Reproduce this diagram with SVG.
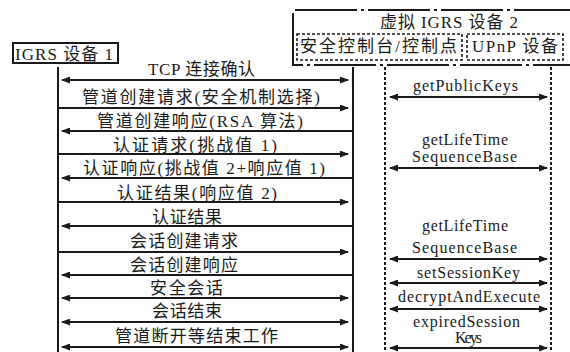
<svg xmlns="http://www.w3.org/2000/svg" width="570" height="352" viewBox="0 0 570 352">
<style>
text{font-family:"Liberation Serif","Times New Roman","Noto Sans CJK SC",serif;font-size:17px;fill:#1a1a1a;text-anchor:middle}
.lat{font-size:16px}
.msg{stroke:#1a1a1a;stroke-width:2;fill:none}
.life{stroke:#1a1a1a;stroke-width:2;fill:none}
.dlife{stroke:#1a1a1a;stroke-width:2;stroke-dasharray:3 2;fill:none}
.box{stroke:#1a1a1a;stroke-width:2;fill:none}
.dbox{stroke:#1a1a1a;stroke-width:1.6;stroke-dasharray:3 2;fill:none}
.ddbox{stroke:#1a1a1a;stroke-width:2;stroke-dasharray:62 4 3 4;fill:none}
</style>
<defs>
<marker id="ah" markerUnits="userSpaceOnUse" markerWidth="9" markerHeight="7" refX="8" refY="3.5" orient="auto-start-reverse">
<path d="M0,0 L9,3.5 L0,7 z" fill="#1a1a1a"/>
</marker>
</defs>
<rect width="570" height="352" fill="#fff"/>

<g id="device1">
<rect class="box" x="13" y="43" width="105" height="20"/>
<text x="64" y="60" textLength="98" lengthAdjust="spacing">IGRS 设备 1</text>
<line class="life" x1="58" y1="67" x2="58" y2="352"/>
</g>

<g id="device2">
<path class="ddbox" d="M295,10 H570"/>
<path class="ddbox" d="M293,13 V65 H570"/>
<text x="449" y="28" textLength="138" lengthAdjust="spacing">虚拟 IGRS 设备 2</text>
<line class="life" x1="353" y1="67" x2="353" y2="352"/>
</g>

<g id="control-point">
<rect class="dbox" x="297" y="34" width="165" height="26"/>
<text x="378.5" y="52" textLength="157" lengthAdjust="spacing">安全控制台/控制点</text>
<line class="dlife" x1="385" y1="67" x2="385" y2="352"/>
</g>

<g id="upnp-device">
<rect class="dbox" x="467" y="34" width="96" height="26"/>
<text x="515" y="52" textLength="86" lengthAdjust="spacing">UPnP 设备</text>
<line class="dlife" x1="551" y1="67" x2="551" y2="352"/>
</g>

<g id="connectors">
<line class="msg" x1="62" y1="80" x2="348" y2="80" marker-start="url(#ah)" marker-end="url(#ah)"/>
<line class="msg" x1="58" y1="108" x2="348" y2="108" marker-end="url(#ah)"/>
<line class="msg" x1="353" y1="131" x2="62" y2="131" marker-end="url(#ah)"/>
<line class="msg" x1="58" y1="154" x2="348" y2="154" marker-end="url(#ah)"/>
<line class="msg" x1="353" y1="178" x2="62" y2="178" marker-end="url(#ah)"/>
<line class="msg" x1="58" y1="202" x2="348" y2="202" marker-end="url(#ah)"/>
<line class="msg" x1="353" y1="226" x2="62" y2="226" marker-end="url(#ah)"/>
<line class="msg" x1="58" y1="252" x2="348" y2="252" marker-end="url(#ah)"/>
<line class="msg" x1="353" y1="275" x2="62" y2="275" marker-end="url(#ah)"/>
<line class="msg" x1="62" y1="298" x2="348" y2="298" marker-start="url(#ah)" marker-end="url(#ah)"/>
<line class="msg" x1="62" y1="322" x2="348" y2="322" marker-start="url(#ah)" marker-end="url(#ah)"/>
<line class="msg" x1="62" y1="347" x2="348" y2="347" marker-start="url(#ah)" marker-end="url(#ah)"/>

<line class="msg" x1="390" y1="97" x2="547" y2="97" marker-start="url(#ah)" marker-end="url(#ah)"/>
<line class="msg" x1="390" y1="168" x2="547" y2="168" marker-start="url(#ah)" marker-end="url(#ah)"/>
<line class="msg" x1="390" y1="259" x2="547" y2="259" marker-start="url(#ah)" marker-end="url(#ah)"/>
<line class="msg" x1="390" y1="283" x2="547" y2="283" marker-start="url(#ah)" marker-end="url(#ah)"/>
<line class="msg" x1="390" y1="309" x2="547" y2="309" marker-start="url(#ah)" marker-end="url(#ah)"/>
<line class="msg" x1="390" y1="348" x2="547" y2="348" marker-start="url(#ah)" marker-end="url(#ah)"/>
</g>

<g id="labels">
<text x="201.5" y="75" textLength="107" lengthAdjust="spacing">TCP 连接确认</text>
<text x="201" y="103" textLength="238" lengthAdjust="spacing">管道创建请求(安全机制选择)</text>
<text x="200" y="127" textLength="206" lengthAdjust="spacing">管道创建响应(RSA 算法)</text>
<text x="195" y="151" textLength="164" lengthAdjust="spacing">认证请求(挑战值 1)</text>
<text x="204" y="174" textLength="242" lengthAdjust="spacing">认证响应(挑战值 2+响应值 1)</text>
<text x="197" y="199" textLength="160" lengthAdjust="spacing">认证结果(响应值 2)</text>
<text x="187" y="223" textLength="70" lengthAdjust="spacing">认证结果</text>
<text x="184" y="247" textLength="108" lengthAdjust="spacing">会话创建请求</text>
<text x="184" y="271" textLength="108" lengthAdjust="spacing">会话创建响应</text>
<text x="186.5" y="294" textLength="73" lengthAdjust="spacing">安全会话</text>
<text x="187" y="317" textLength="70" lengthAdjust="spacing">会话结束</text>
<text x="196.5" y="342" textLength="163" lengthAdjust="spacing">管道断开等结束工作</text>

<text class="lat" x="465.5" y="91" textLength="105" lengthAdjust="spacing">getPublicKeys</text>
<text class="lat" x="465" y="145" textLength="86" lengthAdjust="spacing">getLifeTime</text>
<text class="lat" x="464.5" y="162" textLength="105" lengthAdjust="spacing">SequenceBase</text>
<text class="lat" x="465" y="231" textLength="86" lengthAdjust="spacing">getLifeTime</text>
<text class="lat" x="464.5" y="253" textLength="105" lengthAdjust="spacing">SequenceBase</text>
<text class="lat" x="468.5" y="278" textLength="103" lengthAdjust="spacing">setSessionKey</text>
<text class="lat" x="469" y="302" textLength="142" lengthAdjust="spacing">decryptAndExecute</text>
<text class="lat" x="466.5" y="327" textLength="107" lengthAdjust="spacing">expiredSession</text>
<text class="lat" x="468.5" y="343" textLength="27" lengthAdjust="spacing">Keys</text>
</g>
</svg>
